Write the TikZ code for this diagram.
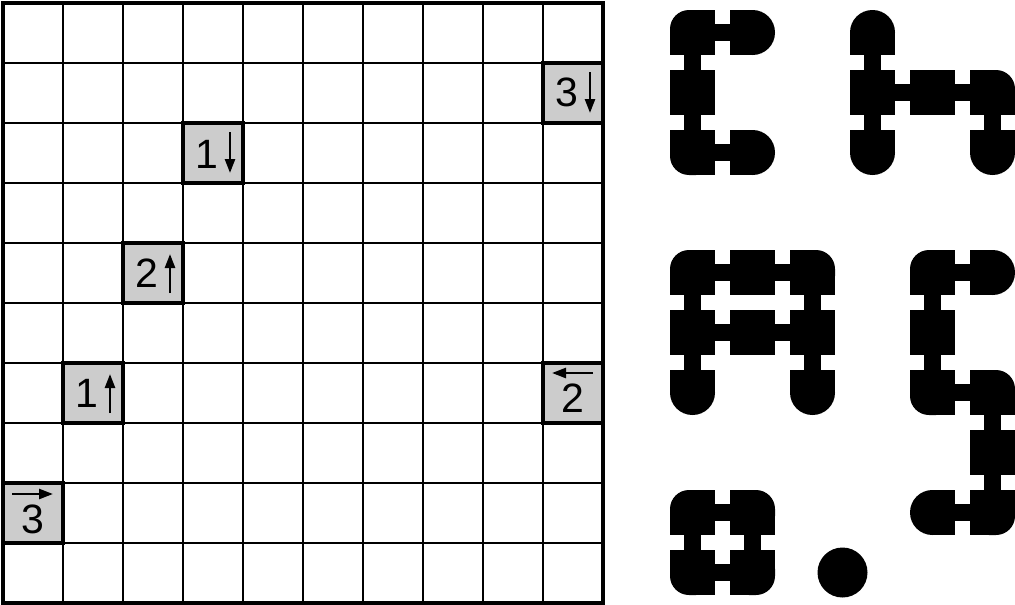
\documentclass[tikz,border=0pt]{standalone}
\usepackage{fontspec}
\setmainfont{Liberation Sans}
\usetikzlibrary{arrows.meta,calc}
% piece cell: #1 col, #2 row, #3 corner radius, #4..#7 sharp flags tl tr br bl
\newcommand{\pc}[7]{%
  \fill[rounded corners=#3pt] ({#1*60+670},{#2*60+10}) rectangle +(45,45);
  \ifnum#4=1 \fill ({#1*60+670},{#2*60+10}) rectangle +(22.5,22.5);\fi
  \ifnum#5=1 \fill ({#1*60+692.5},{#2*60+10}) rectangle +(22.5,22.5);\fi
  \ifnum#6=1 \fill ({#1*60+692.5},{#2*60+32.5}) rectangle +(22.5,22.5);\fi
  \ifnum#7=1 \fill ({#1*60+670},{#2*60+32.5}) rectangle +(22.5,22.5);\fi
}
\newcommand{\sqc}[2]{\fill ({#1*60+670},{#2*60+10}) rectangle +(45,45);}
\newcommand{\hcon}[2]{\fill ({#1*60+710},{#2*60+24.25}) rectangle +(25,16.5);}
\newcommand{\vcon}[2]{\fill ({#1*60+684.25},{#2*60+50}) rectangle +(16.5,25);}
\begin{document}
\begin{tikzpicture}[x=1pt,y=-1pt,
  thinline/.style={line width=1.4pt},
  border/.style={line width=4pt},
  clue/.style={draw, line width=4.6pt, fill=black!20, minimum size=60pt, inner sep=0pt},
  digit/.style={inner sep=0pt, font=\fontsize{41}{43}\selectfont},
  clarrow/.style={line width=2.5pt, -{Triangle[length=14pt,width=10pt]}}]
\useasboundingbox (0,0) rectangle (1015,605);
% grid
\foreach \k in {1,...,9} {
  \draw[thinline] ({3+60*\k},3) -- ({3+60*\k},603);
  \draw[thinline] (3,{3+60*\k}) -- (603,{3+60*\k});
}
\draw[border] (3,3) rectangle (603,603);
% clues
\node[clue] (k1) at (213,153) {};
\node[clue] (k2) at (573,93) {};
\node[clue] (k3) at (153,273) {};
\node[clue] (k4) at (93,393) {};
\node[clue] (k5) at (573,393) {};
\node[clue] (k6) at (33,513) {};
\node[digit] (d1) at ($(k1)+(-6,1)$) {1};
\node[digit] (d2) at ($(k2)+(-6,-1)$) {3};
\node[digit] (d3) at ($(k3)+(-6,0)$) {2};
\node[digit] (d4) at ($(k4)+(-6,0)$) {1};
\node[digit] (d5) at ($(k5)+(0,5)$) {2};
\node[digit] (d6) at ($(k6)+(0,6)$) {3};
\draw[clarrow] ($(k1)+(17,-21)$) -- ($(k1)+(17,20)$);
\draw[clarrow] ($(k2)+(17,-21)$) -- ($(k2)+(17,20)$);
\draw[clarrow] ($(k3)+(17,20)$) -- ($(k3)+(17,-19)$);
\draw[clarrow] ($(k4)+(17,20)$) -- ($(k4)+(17,-19)$);
\draw[clarrow] ($(k5)+(20,-20)$) -- ($(k5)+(-21,-20)$);
\draw[clarrow] ($(k6)+(-21,-19)$) -- ($(k6)+(20,-19)$);
% piece C
\pc{0}{0}{19}{0}{1}{1}{1}
\pc{1}{0}{22.4}{1}{0}{0}{1}
\sqc{0}{1}
\pc{0}{2}{19}{1}{1}{1}{0}
\pc{1}{2}{22.4}{1}{0}{0}{1}
\hcon{0}{0}\vcon{0}{0}\vcon{0}{1}\hcon{0}{2}
% piece h
\pc{3}{0}{22.4}{0}{0}{1}{1}
\sqc{3}{1}
\pc{3}{2}{22.4}{1}{1}{0}{0}
\sqc{4}{1}
\pc{5}{1}{19}{1}{0}{1}{1}
\pc{5}{2}{22.4}{1}{1}{0}{0}
\vcon{3}{0}\vcon{3}{1}\hcon{3}{1}\hcon{4}{1}\vcon{5}{1}
% piece A
\pc{0}{4}{19}{0}{1}{1}{1}
\sqc{1}{4}
\pc{2}{4}{19}{1}{0}{1}{1}
\sqc{0}{5}\sqc{1}{5}\sqc{2}{5}
\pc{0}{6}{22.4}{1}{1}{0}{0}
\pc{2}{6}{22.4}{1}{1}{0}{0}
\hcon{0}{4}\hcon{1}{4}\vcon{0}{4}\vcon{2}{4}\hcon{0}{5}\hcon{1}{5}\vcon{0}{5}\vcon{2}{5}
% piece S
\pc{4}{4}{19}{0}{1}{1}{1}
\pc{5}{4}{22.4}{1}{0}{0}{1}
\sqc{4}{5}
\pc{4}{6}{19}{1}{1}{1}{0}
\pc{5}{6}{19}{1}{0}{1}{1}
\sqc{5}{7}
\pc{5}{8}{19}{1}{1}{0}{1}
\pc{4}{8}{22.4}{0}{1}{1}{0}
\hcon{4}{4}\vcon{4}{4}\vcon{4}{5}\hcon{4}{6}\vcon{5}{6}\vcon{5}{7}\hcon{4}{8}
% piece o
\pc{0}{8}{19}{0}{1}{1}{1}
\pc{1}{8}{19}{1}{0}{1}{1}
\pc{0}{9}{19}{1}{1}{1}{0}
\pc{1}{9}{19}{1}{1}{0}{1}
\hcon{0}{8}\hcon{0}{9}\vcon{0}{8}\vcon{1}{8}
% dot
\fill (842.5,572.5) circle[radius=25];
\end{tikzpicture}
\end{document}
